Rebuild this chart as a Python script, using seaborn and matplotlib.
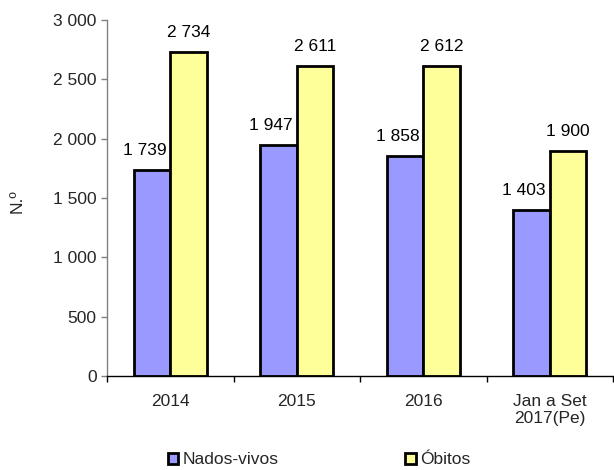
import matplotlib
matplotlib.use("Agg")
import matplotlib.pyplot as plt
import seaborn as sns
import pandas as pd
from matplotlib.ticker import FixedLocator, FuncFormatter

categories = ["2014", "2015", "2016", "Jan a Set\n2017(Pe)"]
nados_vivos = [1739, 1947, 1858, 1403]
obitos = [2734, 2611, 2612, 1900]
series_names = ["Nados-vivos", "Óbitos"]
colors = ["#9999FF", "#FFFF99"]
y_ticks = [0, 500, 1000, 1500, 2000, 2500, 3000]

sns.set_style("white")
plt.rcParams["font.family"] = ["Liberation Sans", "DejaVu Sans"]
FS = 12.5

df = pd.DataFrame({
    "cat": categories * 2,
    "val": nados_vivos + obitos,
    "series": [series_names[0]] * len(categories) + [series_names[1]] * len(categories),
})

fig = plt.figure(figsize=(6.14, 4.70), dpi=100)
ax = fig.add_axes([107 / 614, 1 - 376 / 470, 506 / 614, 356 / 470])

sns.barplot(data=df, x="cat", y="val", hue="series", palette=colors,
            saturation=1, edgecolor="black", linewidth=2.0, width=0.58, dodge=True,
            ax=ax, legend=True)

def fmt(v):
    return f"{int(v):,}".replace(",", " ")

ax.set_ylim(0, 3000)
ax.set_xlim(-0.5, len(categories) - 0.5)
ax.yaxis.set_major_locator(FixedLocator(y_ticks))
ax.yaxis.set_major_formatter(FuncFormatter(lambda v, p: fmt(v)))

# value labels
for ci, cont in enumerate(ax.containers):
    dx = -7.5 if ci == 0 else 0
    for patch, val in zip(cont.patches, [nados_vivos, obitos][ci]):
        x = patch.get_x() + patch.get_width() / 2
        ax.annotate(fmt(val), xy=(x, patch.get_height()), xytext=(dx * 0.72, 15 * 0.72),
                    textcoords="offset points", ha="center", va="baseline",
                    fontsize=FS, color="black", annotation_clip=False)

sns.despine(ax=ax)
ax.spines["left"].set_color("#808080")
ax.spines["left"].set_linewidth(1.0)
ax.spines["bottom"].set_color("black")
ax.spines["bottom"].set_linewidth(1.0)

ax.tick_params(axis="y", which="major", direction="out", length=4.5, width=1.0,
               color="#808080", left=True, labelsize=FS, pad=3)
ax.set_xticks(range(len(categories)))
ax.set_xticklabels(categories, fontsize=FS, linespacing=1.15)
ax.tick_params(axis="x", which="major", length=0, pad=13)
ax.set_xticks([i - 0.5 for i in range(len(categories) + 1)], minor=True)
ax.tick_params(axis="x", which="minor", direction="out", length=4, width=1.0,
               color="black", bottom=True)

ax.set_xlabel("")
ax.set_ylabel("N.º", fontsize=FS)
ax.yaxis.set_label_coords(-0.162, 0.49)

handles, labels = ax.get_legend_handles_labels()
ax.get_legend().remove()
leg = fig.legend(handles, labels, loc="center", bbox_to_anchor=(319 / 614, 10 / 470),
                 ncol=2, frameon=False, fontsize=FS, handlelength=0.6, handleheight=0.6,
                 handletextpad=0.25, columnspacing=7.3, borderpad=0)
for h in leg.legend_handles:
    h.set_linewidth(2.0)

fig.savefig("out.png", dpi=100)
